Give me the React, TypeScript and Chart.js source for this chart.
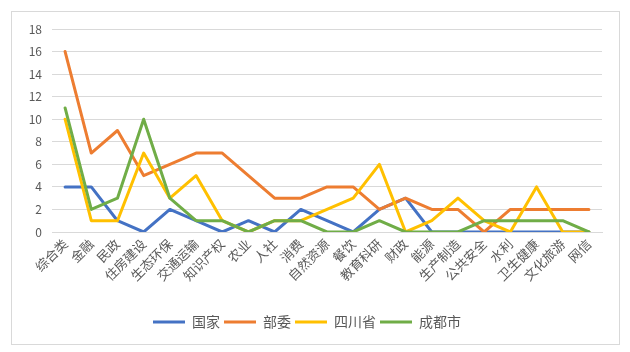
import React, { useEffect, useRef } from "react";
import { Chart, registerables } from "chart.js";

Chart.register(...registerables);

const categories = ["综合类", "金融", "民政", "住房建设", "生态环保", "交通运输", "知识产权", "农业", "人社", "消费", "自然资源", "餐饮", "教育科研", "财政", "能源", "生产制造", "公共安全", "水利", "卫生健康", "文化旅游", "网信"];
const seriesNames = ["国家", "部委", "四川省", "成都市"];
const guojia = [4, 4, 1, 0, 2, 1, 0, 1, 0, 2, 1, 0, 2, 3, 0, 0, 0, 0, 0, 0, 0];
const buwei = [16, 7, 9, 5, 6, 7, 7, 5, 3, 3, 4, 4, 2, 3, 2, 2, 0, 2, 2, 2, 2];
const sichuan = [10, 1, 1, 7, 3, 5, 1, 0, 1, 1, 2, 3, 6, 0, 1, 3, 1, 0, 4, 0, 0];
const chengdu = [11, 2, 3, 10, 3, 1, 1, 0, 1, 1, 0, 0, 1, 0, 0, 0, 1, 1, 1, 1, 0];
const colors = ["#4472C4", "#ED7D31", "#FFC000", "#70AD47"];
const yTicks = [0, 2, 4, 6, 8, 10, 12, 14, 16, 18];

const FONT = '"Noto Sans CJK SC", "Noto Sans", sans-serif';

const borderPlugin = {
  id: "outerBorder",
  beforeDraw(chart: any) {
    const ctx = chart.ctx;
    ctx.save();
    ctx.fillStyle = "#ffffff";
    ctx.fillRect(0, 0, chart.width, chart.height);
    ctx.strokeStyle = "#d9d9d9";
    ctx.lineWidth = 1;
    ctx.strokeRect(11.5, 11.5, 608, 333);
    ctx.restore();
  },
};

export default function App() {
  const ref = useRef<HTMLCanvasElement>(null);
  useEffect(() => {
    const values = [guojia, buwei, sichuan, chengdu];
    const chart = new Chart(ref.current!, {
      type: "line",
      data: {
        labels: categories,
        datasets: seriesNames.map((name, i) => ({
          label: name,
          data: values[i],
          borderColor: colors[i],
          backgroundColor: colors[i],
          borderWidth: 3,
          pointRadius: 0,
          tension: 0,
          order: 3 - i,
          borderCapStyle: "round" as const,
          borderJoinStyle: "round" as const,
        })),
      },
      options: {
        animation: false,
        responsive: false,
        devicePixelRatio: 1,
        layout: { padding: { left: 12, right: 28, top: 29, bottom: 13 } },
        plugins: {
          tooltip: { enabled: false },
          legend: {
            position: "bottom",
            labels: {
              boxWidth: 32,
              boxHeight: 3,
              padding: 4,
              color: "#595959",
              font: { family: FONT, size: 14 },
              sort: (a: any, b: any) => a.datasetIndex - b.datasetIndex,
              generateLabels: (chart: any) =>
                chart.data.datasets.map((d: any, i: number) => ({
                  text: d.label,
                  fillStyle: colors[i],
                  strokeStyle: colors[i],
                  lineWidth: 0,
                  hidden: false,
                  datasetIndex: i,
                  fontColor: "#595959",
                })),
            },
          },
        },
        scales: {
          x: {
            offset: true,
            grid: { display: false, drawTicks: false },
            border: { display: true, color: "#d9d9d9" },
            ticks: {
              color: "#595959",
              font: { family: FONT, size: 13 },
              minRotation: 45,
              maxRotation: 45,
              autoSkip: false,
              padding: 4,
            },
            afterFit: (s: any) => {
              s.height = 79;
            },
          },
          y: {
            min: 0,
            max: 18,
            afterBuildTicks: (s: any) => {
              s.ticks = yTicks.map((v) => ({ value: v }));
            },
            grid: { color: "#d9d9d9", drawTicks: false },
            border: { display: false },
            ticks: {
              color: "#595959",
              font: { family: FONT, size: 12 },
              padding: 10,
            },
            afterFit: (s: any) => {
              s.width = 40;
            },
          },
        },
      },
      plugins: [borderPlugin],
    });
    return () => chart.destroy();
  }, []);
  return (
    <div style={{ position: "fixed", left: 0, top: 0, width: 630, height: 352 }}>
      <canvas ref={ref} width={630} height={352} style={{ width: 630, height: 352 }} />
    </div>
  );
}
